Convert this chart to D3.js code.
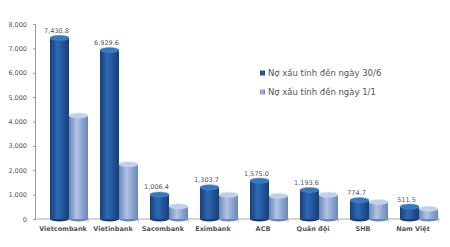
<!DOCTYPE html>
<html>
<head>
<meta charset="utf-8">
<script src="https://cdn.jsdelivr.net/npm/d3@7"></script>
<style>
  body { margin: 0; background: #fff; }
  text { font-family: "DejaVu Sans", Arial, sans-serif; fill: #555; }
</style>
</head>
<body>
<div id="chart"></div>
<script>
// chart data
var banks = ["Vietcombank", "Vietinbank", "Sacombank", "Eximbank", "ACB", "Quân đội", "SHB", "Nam Việt"];
var seriesNames = ["Nợ xấu tính đến ngày 30/6", "Nợ xấu tính đến ngày 1/1"];
var june30 = [7430.8, 6929.6, 1006.4, 1303.7, 1575.0, 1193.6, 774.7, 511.5];
var jan1 = [4250, 2250, 520, 1000, 950, 1000, 700, 420];
var yTicks = [0, 1000, 2000, 3000, 4000, 5000, 6000, 7000, 8000];

function init() {
    var w = 450, h = 247;

    var svg = d3.select("#chart")
        .append("svg")
        .attr("width", w)
        .attr("height", h);

    var defs = svg.append("defs");
    function cyl(id, edge, mid) {
        var g = defs.append("linearGradient").attr("id", id)
            .attr("x1", "0%").attr("x2", "100%").attr("y1", "0%").attr("y2", "0%");
        g.append("stop").attr("offset", "0%").attr("stop-color", edge);
        g.append("stop").attr("offset", "40%").attr("stop-color", mid);
        g.append("stop").attr("offset", "100%").attr("stop-color", edge);
    }
    cyl("gDark", "#173f78", "#2d69b5");
    cyl("gLight", "#6a86b8", "#b1c4e4");
    var capColor = ["#3a76c0", "#bfd0ec"];
    var fills = ["url(#gDark)", "url(#gLight)"];

    var xScale = d3.scaleBand().domain(banks).range([38, 438]);
    var xInner = d3.scaleBand().domain([0, 1]).range([12, 50]);
    var yScale = d3.scaleLinear().domain([0, 8000]).range([219, 24]);

    // y axis
    var yAxis = d3.axisLeft(yScale)
        .tickValues(yTicks)
        .tickFormat(d3.format(","))
        .tickSize(2)
        .tickPadding(6);
    var gy = svg.append("g")
        .attr("transform", "translate(35,0)")
        .call(yAxis);
    gy.selectAll("path, line").attr("stroke", "#999");
    gy.selectAll("text").style("font-size", "6.5px").style("fill", "#555");

    // x axis
    var gx = svg.append("g").attr("transform", "translate(0,219)");
    gx.append("line").attr("x1", 35).attr("x2", 440).attr("y1", 0).attr("y2", 0).attr("stroke", "#aaa");
    gx.selectAll(".tk").data(banks).enter().append("line")
        .attr("x1", d => xScale(d) + xScale.bandwidth())
        .attr("x2", d => xScale(d) + xScale.bandwidth())
        .attr("y1", 0).attr("y2", 3).attr("stroke", "#aaa");
    gx.selectAll(".lbl").data(banks).enter().append("text")
        .attr("x", d => xScale(d) + xScale.bandwidth() / 2)
        .attr("y", 12)
        .attr("text-anchor", "middle")
        .style("font-size", "6.5px")
        .style("font-weight", "bold")
        .text(d => d);

    // bars (cylinders)
    var series = [june30, jan1];
    series.forEach(function (vals, s) {
        var g = svg.append("g");
        var bw = xInner.bandwidth();
        vals.forEach(function (v, i) {
            var x0 = xScale(banks[i]) + xInner(s);
            var yt = yScale(v);
            g.append("ellipse")
                .attr("cx", x0 + bw / 2).attr("cy", yScale(0))
                .attr("rx", bw / 2).attr("ry", 2.5)
                .attr("fill", s === 0 ? "#173f78" : "#6a86b8");
            g.append("rect")
                .attr("x", x0).attr("y", yt)
                .attr("width", bw).attr("height", yScale(0) - yt)
                .attr("fill", fills[s]);
            g.append("ellipse")
                .attr("cx", x0 + bw / 2).attr("cy", yt)
                .attr("rx", bw / 2).attr("ry", 2.5)
                .attr("fill", capColor[s])
                .attr("stroke", s === 0 ? "#5b8fd0" : "#d6e1f3")
                .attr("stroke-width", 0.5);
        });
    });

    // value labels on the 30/6 bars
    svg.append("g").selectAll("text").data(june30).enter().append("text")
        .attr("x", (d, i) => xScale(banks[i]) + xInner(0) + xInner.bandwidth() / 2 - 3)
        .attr("y", d => yScale(d) - 5)
        .attr("text-anchor", "middle")
        .style("font-size", "6.5px")
        .text(d => d3.format(",.1f")(d));

    // legend
    var lg = svg.append("g").attr("transform", "translate(260,73)");
    seriesNames.forEach(function (name, i) {
        lg.append("rect")
            .attr("x", 0).attr("y", i * 19 - 2.5)
            .attr("width", 5).attr("height", 5)
            .attr("fill", fills[i]);
        lg.append("text")
            .attr("x", 8).attr("y", i * 19)
            .attr("dy", "0.35em")
            .style("font-size", "8.5px")
            .text(name);
    });
}

init();
</script>
</body>
</html>
